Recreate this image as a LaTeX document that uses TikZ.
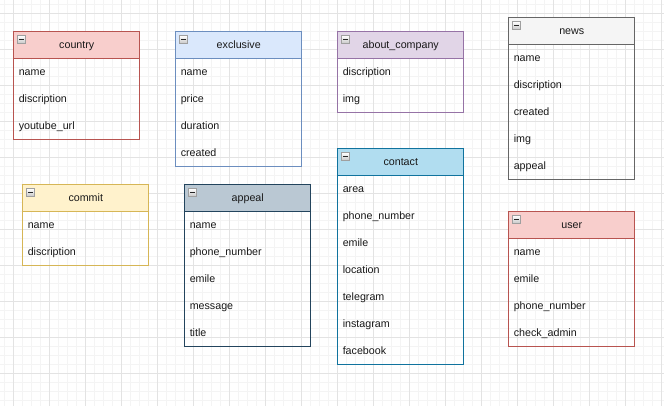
\documentclass[tikz,border=0pt]{standalone}
\usepackage{fontspec}
\setmainfont{Liberation Sans}
\usetikzlibrary{positioning}

\definecolor{countryfill}{HTML}{F8CECC}  \definecolor{countryline}{HTML}{B85450}
\definecolor{bluefill}{HTML}{DAE8FC}     \definecolor{blueline}{HTML}{6C8EBF}
\definecolor{purplefill}{HTML}{E1D5E7}   \definecolor{purpleline}{HTML}{9673A6}
\definecolor{greyfill}{HTML}{F5F5F5}     \definecolor{greyline}{HTML}{666666}
\definecolor{yellowfill}{HTML}{FFF2CC}   \definecolor{yellowline}{HTML}{D6B656}
\definecolor{slatefill}{HTML}{BAC8D3}    \definecolor{slateline}{HTML}{23445D}
\definecolor{cyanfill}{HTML}{B1DDF0}     \definecolor{cyanline}{HTML}{10739E}
\definecolor{gridminor}{HTML}{F4F4F4}
\definecolor{gridmajor}{HTML}{E3E3E3}

\begin{document}
\begin{tikzpicture}[x=1pt, y=-1pt, line width=0.9pt]
    \tikzset{
        tblhead/.style={draw, anchor=north west, minimum width=126pt, minimum height=27pt, inner sep=0pt,
            text height=8pt, text depth=2.4pt, text=black!90, font=\fontsize{10.7}{12}\selectfont},
        tblfield/.style={anchor=north west, minimum height=27pt, text width=116pt, inner xsep=5pt, inner ysep=0pt,
            text height=8pt, text depth=2.4pt, align=left, text=black!90, font=\fontsize{10.7}{12}\selectfont},
        collapse/.style={draw=gray!75, top color=white, bottom color=gray!45, minimum size=8pt, inner sep=0pt, line width=0.6pt,
            path picture={\draw[line width=1.2pt, black!85] ([xshift=1.8pt]path picture bounding box.west) -- ([xshift=-1.8pt]path picture bounding box.east);}},
    }

    % canvas and grid
    \fill[white] (0,0) rectangle (664,406);
    \useasboundingbox (0,0) rectangle (664,406);
    \foreach \k in {0,...,73} \draw[gridminor, line width=0.8pt] ({4.3+9*\k},0) -- ++(0,406);
    \foreach \k in {0,...,44} \draw[gridminor, line width=0.8pt] (0,{4.3+9*\k}) -- ++(664,0);
    \foreach \k in {0,...,18} \draw[gridmajor, line width=0.8pt] ({13.3+36*\k},0) -- ++(0,406);
    \foreach \k in {0,...,10} \draw[gridmajor, line width=0.8pt] (0,{13.3+36*\k}) -- ++(664,0);

    % country
    \node[tblhead, fill=countryfill, draw=countryline] (country) at (13.3,31.3) {country};
    \node[collapse] (country-icon) at ([shift={(8.3,8.3)}]country.north west) {};
    \foreach \f [count=\i] in {name, discription, youtube\_url}
        \node[tblfield] (country-\i) at ([yshift={-27*(\i-1)}]country.south west) {\f};
    \draw[countryline] (country.north west) rectangle ++(126,108);

    % exclusive
    \node[tblhead, fill=bluefill, draw=blueline] (exclusive) at (175.3,31.3) {exclusive};
    \node[collapse] (exclusive-icon) at ([shift={(8.3,8.3)}]exclusive.north west) {};
    \foreach \f [count=\i] in {name, price, duration, created}
        \node[tblfield] (exclusive-\i) at ([yshift={-27*(\i-1)}]exclusive.south west) {\f};
    \draw[blueline] (exclusive.north west) rectangle ++(126,135);

    % about_company
    \node[tblhead, fill=purplefill, draw=purpleline] (company) at (337.3,31.3) {about\_company};
    \node[collapse] (company-icon) at ([shift={(8.3,8.3)}]company.north west) {};
    \foreach \f [count=\i] in {discription, img}
        \node[tblfield] (company-\i) at ([yshift={-27*(\i-1)}]company.south west) {\f};
    \draw[purpleline] (company.north west) rectangle ++(126,81);

    % news
    \node[tblhead, fill=greyfill, draw=greyline] (news) at (508.3,17.3) {news};
    \node[collapse] (news-icon) at ([shift={(8.3,8.3)}]news.north west) {};
    \foreach \f [count=\i] in {name, discription, created, img, appeal}
        \node[tblfield] (news-\i) at ([yshift={-27*(\i-1)}]news.south west) {\f};
    \draw[greyline] (news.north west) rectangle ++(126,162);

    % commit
    \node[tblhead, fill=yellowfill, draw=yellowline] (commit) at (22.3,184.3) {commit};
    \node[collapse] (commit-icon) at ([shift={(8.3,8.3)}]commit.north west) {};
    \foreach \f [count=\i] in {name, discription}
        \node[tblfield] (commit-\i) at ([yshift={-27*(\i-1)}]commit.south west) {\f};
    \draw[yellowline] (commit.north west) rectangle ++(126,81);

    % appeal
    \node[tblhead, fill=slatefill, draw=slateline] (appeal) at (184.3,184.3) {appeal};
    \node[collapse] (appeal-icon) at ([shift={(8.3,8.3)}]appeal.north west) {};
    \foreach \f [count=\i] in {name, phone\_number, emile, message, title}
        \node[tblfield] (appeal-\i) at ([yshift={-27*(\i-1)}]appeal.south west) {\f};
    \draw[slateline] (appeal.north west) rectangle ++(126,162);

    % contact
    \node[tblhead, fill=cyanfill, draw=cyanline] (contact) at (337.3,148.3) {contact};
    \node[collapse] (contact-icon) at ([shift={(8.3,8.3)}]contact.north west) {};
    \foreach \f [count=\i] in {area, phone\_number, emile, location, telegram, instagram, facebook}
        \node[tblfield] (contact-\i) at ([yshift={-27*(\i-1)}]contact.south west) {\f};
    \draw[cyanline] (contact.north west) rectangle ++(126,216);

    % user
    \node[tblhead, fill=countryfill, draw=countryline] (user) at (508.3,211.3) {user};
    \node[collapse] (user-icon) at ([shift={(8.3,8.3)}]user.north west) {};
    \foreach \f [count=\i] in {name, emile, phone\_number, check\_admin}
        \node[tblfield] (user-\i) at ([yshift={-27*(\i-1)}]user.south west) {\f};
    \draw[countryline] (user.north west) rectangle ++(126,135);
\end{tikzpicture}
\end{document}
